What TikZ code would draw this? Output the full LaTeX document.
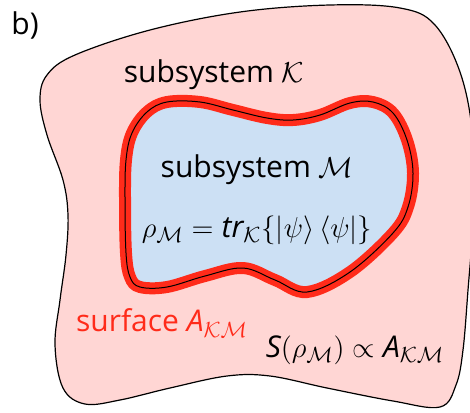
\documentclass[tikz,border=0pt]{standalone}
\usepackage{fontspec}
\setmainfont{Open Sans}
\definecolor{regionK}{RGB}{255,214,212}
\definecolor{regionM}{RGB}{204,224,244}
\definecolor{surfred}{RGB}{255,43,26}
\newcommand{\ttr}{\textit{tr}}
\begin{document}
\begin{tikzpicture}[x=0.5pt, y=-0.5pt,
  lbl/.style={font=\fontsize{15}{18}\selectfont, inner sep=0pt}]

\useasboundingbox (0,0) rectangle (470,412);

% ---------- subsystem K ----------
\draw[fill=regionK, line width=0.6pt] plot[smooth cycle, tension=0.6] coordinates {
  (40,100) (47,135) (63,180) (68,215) (66,255) (60,300) (55,345) (63,388)
  (85,404) (120,400) (170,388) (227,376) (270,376) (327,388) (393,401)
  (440,407) (456,385) (463,350) (468,290) (473,220) (473,140) (461,75)
  (435,25) (400,8) (330,5) (240,12) (150,30) (75,55) (47,75)};

% ---------- subsystem M ----------
\draw[fill=regionM, draw=surfred, line width=6pt] plot[smooth cycle, tension=0.6] coordinates {
  (125,200) (126,253) (130,277) (140,287) (167,287) (205,276) (243,268)
  (275,280) (307,292) (350,272) (393,233) (408,207) (413,173) (407,140)
  (393,113) (373,102) (350,103) (320,115) (293,120) (267,118) (233,110)
  (200,102) (167,102) (147,112) (132,133) (126,160)};
\draw[line width=0.5pt] plot[smooth cycle, tension=0.6] coordinates {
  (125,200) (126,253) (130,277) (140,287) (167,287) (205,276) (243,268)
  (275,280) (307,292) (350,272) (393,233) (408,207) (413,173) (407,140)
  (393,113) (373,102) (350,103) (320,115) (293,120) (267,118) (233,110)
  (200,102) (167,102) (147,112) (132,133) (126,160)};

% ---------- labels ----------
\node[lbl] (panel) at (25,25) {b)};
\node[lbl] (subK) at (214,75) {subsystem $\mathcal{K}$};
\node[lbl] (subM) at (257,170) {subsystem $\mathcal{M}$};
\node[lbl] (rhoM) at (257,230) {$\rho_{\mathcal{M}} = \ttr_{\mathcal{K}}\{\left|\psi\right\rangle\left\langle\psi\right|\}$};
\node[lbl, text=surfred] (surf) at (162,323) {surface $\textit{A}_{\mathcal{K}\mathcal{M}}$};
\node[lbl] (entropy) at (355,350) {$\textit{S}(\rho_{\mathcal{M}}) \propto \textit{A}_{\mathcal{K}\mathcal{M}}$};

\end{tikzpicture}
\end{document}
